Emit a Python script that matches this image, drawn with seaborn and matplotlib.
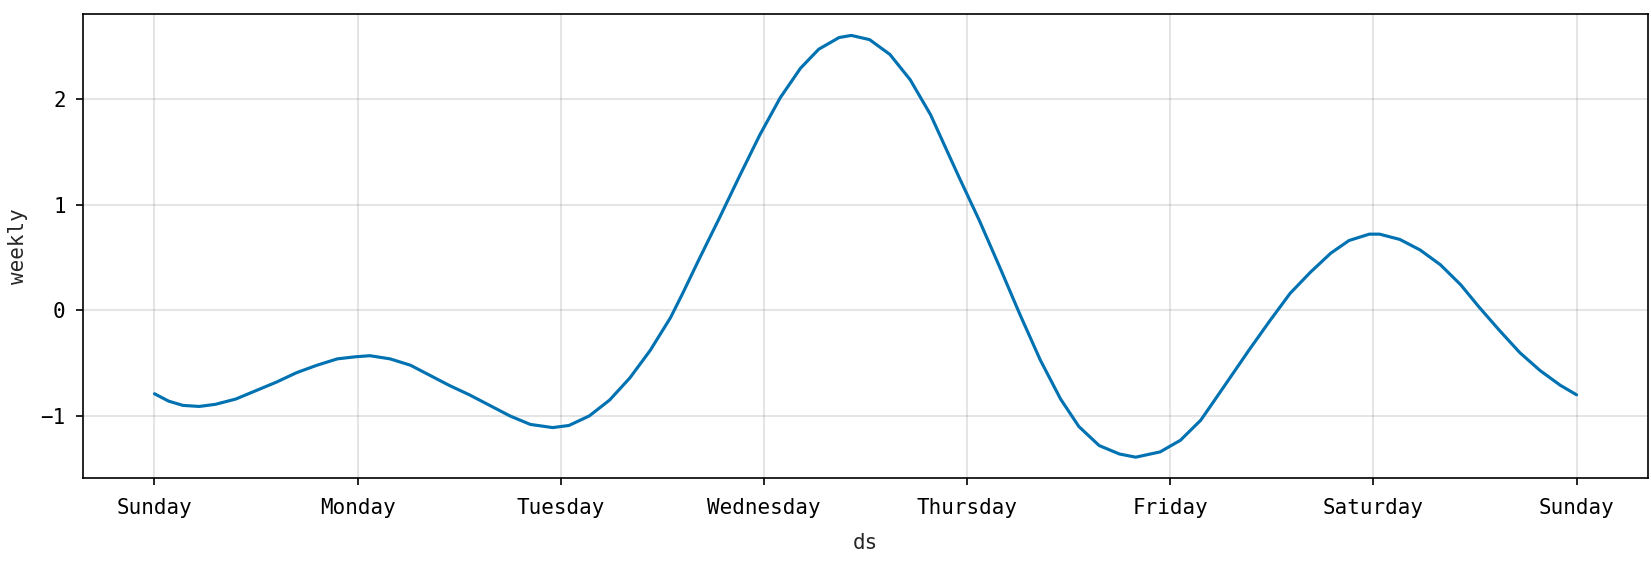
import matplotlib
matplotlib.use("Agg")
import matplotlib.pyplot as plt
from matplotlib.ticker import MultipleLocator
import seaborn as sns
import pandas as pd

# Weekly seasonality component (x in days since Sunday 00:00)
day_pos = [0.00, 0.07, 0.14, 0.22, 0.30, 0.40, 0.50, 0.60, 0.70, 0.80,
           0.90, 0.99, 1.06, 1.16, 1.26, 1.35, 1.45, 1.55, 1.65, 1.75,
           1.85, 1.96, 2.04, 2.14, 2.24, 2.34, 2.44, 2.54, 2.60, 2.68,
           2.78, 2.88, 2.98, 3.08, 3.18, 3.27, 3.37, 3.43, 3.52, 3.62,
           3.72, 3.82, 3.91, 3.96, 4.06, 4.16, 4.26, 4.36, 4.46, 4.55,
           4.65, 4.75, 4.83, 4.95, 5.05, 5.15, 5.24, 5.34, 5.39, 5.49,
           5.59, 5.69, 5.79, 5.88, 5.98, 6.03, 6.13, 6.23, 6.33, 6.43,
           6.52, 6.62, 6.72, 6.82, 6.92, 7.00]
weekly = [-0.79, -0.86, -0.90, -0.91, -0.89, -0.84, -0.76, -0.68, -0.59, -0.52,
          -0.46, -0.44, -0.43, -0.46, -0.52, -0.61, -0.71, -0.80, -0.90, -1.00,
          -1.08, -1.11, -1.09, -1.00, -0.85, -0.64, -0.38, -0.07, 0.16, 0.48,
          0.87, 1.27, 1.66, 2.01, 2.29, 2.47, 2.58, 2.60, 2.56, 2.42,
          2.18, 1.85, 1.47, 1.26, 0.85, 0.41, -0.04, -0.47, -0.84, -1.10,
          -1.28, -1.36, -1.39, -1.34, -1.23, -1.04, -0.79, -0.51, -0.37, -0.10,
          0.16, 0.36, 0.54, 0.66, 0.72, 0.72, 0.67, 0.57, 0.43, 0.24,
          0.03, -0.19, -0.40, -0.57, -0.71, -0.80]
tick_days = [0, 1, 2, 3, 4, 5, 6, 7]
tick_labels = ["Sunday", "Monday", "Tuesday", "Wednesday", "Thursday",
               "Friday", "Saturday", "Sunday"]

df = pd.DataFrame({"ds": day_pos, "weekly": weekly})

sns.set_style("ticks")
plt.rcParams["font.family"] = ["DejaVu Sans Mono", "DejaVu Sans"]
plt.rcParams["font.size"] = 10

fig, ax = plt.subplots(figsize=(1651 / 150, 564 / 150), dpi=150)
fig.subplots_adjust(left=0.0505, right=0.998, top=0.9746, bottom=0.152)

sns.lineplot(data=df, x="ds", y="weekly", ax=ax, color="#0072B2", lw=1.5,
             sort=False)
ax.lines[0].set_solid_joinstyle("round")
ax.set_xticks(tick_days)
ax.set_xticklabels(tick_labels)
ax.yaxis.set_major_locator(MultipleLocator(1))
ax.grid(True, which="major", c="gray", ls="-", lw=1, alpha=0.2)
ax.set_xlabel("ds", labelpad=7)
ax.set_ylabel("weekly", labelpad=6)
for s in ax.spines.values():
    s.set_color("black")
    s.set_linewidth(0.8)
ax.tick_params(colors="black", length=3.5, width=0.8)
ax.tick_params(axis="x", pad=6)
ax.tick_params(axis="y", pad=5)

fig.savefig("out.png", dpi=150)
